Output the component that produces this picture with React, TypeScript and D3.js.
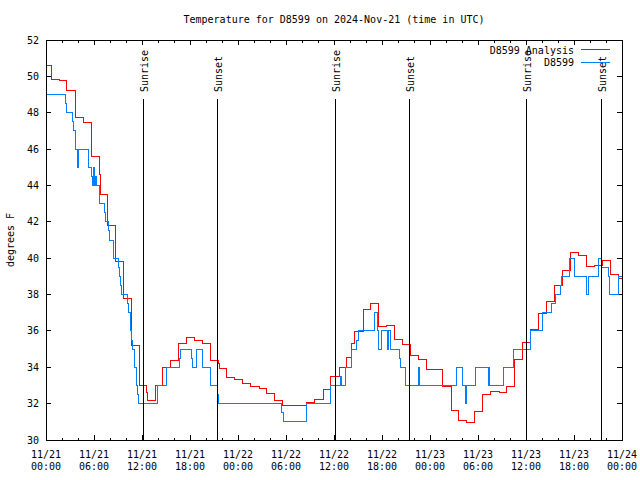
import React from "react";
import * as d3 from "d3";

const TITLE = "Temperature for D8599 on 2024-Nov-21 (time in UTC)";
const Y_LABEL = "degrees F";
const SERIES_NAMES = ["D8599 Analysis", "D8599"];
const SERIES_COLORS = ["#ff0000", "#0080ff"];

// hours since 2024-11-21 00:00 UTC
const X_TICK_HOURS = [0, 6, 12, 18, 24, 30, 36, 42, 48, 54, 60, 66, 72];
const X_TICK_DATES = ["11/21", "11/21", "11/21", "11/21", "11/22", "11/22", "11/22", "11/22", "11/23", "11/23", "11/23", "11/23", "11/24"];
const X_TICK_TIMES = ["00:00", "06:00", "12:00", "18:00", "00:00", "06:00", "12:00", "18:00", "00:00", "06:00", "12:00", "18:00", "00:00"];
const X_MINOR_STEP = 2;
const Y_TICKS = [30, 32, 34, 36, 38, 40, 42, 44, 46, 48, 50, 52];

const SUN_HOURS = [12.15, 21.41, 36.13, 45.41, 60.05, 69.41];
const SUN_LABELS = ["Sunrise", "Sunset", "Sunrise", "Sunset", "Sunrise", "Sunset"];

// D8599 Analysis (red)
const analysisHours = [
  -0.4, 0.71, 1.66, 2.59, 3.66, 4.66, 5.71, 6.66, 6.79, 7.71, 8.71, 9.66, 10.63, 11.66,
  12.59, 12.66, 13.63, 14.59, 15.6, 16.5, 17.6, 18.6, 19.6, 20.6, 21.5, 21.65, 22.6, 23.6,
  24.6, 25.6, 26.66, 27.6, 28.6, 29.6, 32.6, 33.6, 34.66, 35.6, 36.66, 37.6, 38.2, 38.6,
  39.66, 40.6, 41.6, 42.6, 43.5, 44.6, 45.5, 46.5, 47.6, 49.6, 50.7, 51.5, 52.6, 53.5,
  54.6, 55.6, 56.7, 57.6, 58.5, 59.5, 60.5, 61.5, 62.6, 63.6, 64.6, 65.5, 66.5, 67.5,
  68.5, 69.6, 70.5, 71.6, 72.5,
];
const analysisTemps = [
  50.6, 49.85, 49.75, 49.2, 47.75, 47.45, 45.6, 44.6, 43.5, 41.8, 39.8, 37.8, 35.2, 33.0,
  32.6, 32.15, 33.0, 34.0, 34.4, 35.3, 35.65, 35.5, 35.3, 34.35, 34.2, 33.95, 33.45, 33.35,
  33.1, 32.95, 32.85, 32.55, 32.2, 31.9, 32.05, 32.25, 32.8, 33.5, 34.0, 34.55, 35.3, 35.95,
  37.2, 37.5, 36.27, 36.3, 35.54, 35.28, 34.67, 34.44, 33.9, 32.93, 31.65, 31.1, 30.95, 31.56,
  32.53, 32.66, 32.6, 32.97, 34.44, 35.37, 36.08, 36.97, 37.64, 38.52, 39.35, 40.32, 40.14, 39.53,
  39.6, 39.9, 39.13, 38.9, 38.9,
];

// D8599 observations (blue)
const obsHours = [
  -0.5, 0.08, 2.46, 2.59, 3.29, 3.41, 3.63, 3.91, 4.12, 5.29, 5.71, 5.85, 5.95, 6.05, 6.15, 6.25,
  6.66, 6.72, 7.25, 7.38, 7.79, 7.91, 8.41, 9.04, 9.16, 9.34, 9.46, 10.16, 10.29, 10.5, 10.59,
  10.71, 10.84, 11.0, 11.12, 11.25, 11.41, 11.54, 13.91, 15.09, 16.66, 16.75, 18.21, 18.34, 18.75,
  19.54, 20.59, 21.41, 21.54, 29.46, 29.66, 32.5, 35.59, 36.75, 36.96, 37.46, 38.21, 38.84, 39.04,
  41.0, 41.41, 41.54, 41.96, 42.66, 42.79, 43.0, 44.16, 44.34, 44.88, 46.54, 46.66, 51.25, 52.06,
  52.4, 52.59, 53.7, 55.29, 55.35, 55.42, 57.16, 58.41, 60.5, 62.09, 63.21, 63.63, 64.34, 64.46,
  65.41, 66.04, 67.59, 67.79, 69.04, 69.46, 70.29, 70.41, 71.54, 72.5,
];
const obsTemps = [
  49.5, 49, 48.5, 48, 47.5, 47, 46, 45, 46, 45, 44.5, 44, 45, 44, 44.5, 44,
  43.5, 43, 42.5, 42, 41.5, 41, 40, 39.5, 39, 38.5, 38, 37.5, 37, 36.5, 36,
  35.5, 35, 34.5, 34, 33, 32.5, 32, 33, 34, 34.5, 35, 34.5, 34, 35,
  34, 33, 32.5, 32, 31.5, 31, 32, 33, 33.5, 33, 34, 35, 35.5, 36,
  37, 36, 35, 36, 35, 36, 35, 34.5, 34, 33, 34, 33, 34, 33,
  32, 33, 34, 33, 34, 33, 34, 35, 36, 37, 37.5, 38, 38.5, 39,
  40, 39, 38, 39, 40, 39.5, 39, 38, 39, 39,
];

const W = 640;
const H = 480;
const L = 46;
const R = 622;
const T = 40;
const B = 440;
const FONT = "'DejaVu Sans Mono', monospace";

export default function App() {
  const x = d3.scaleLinear().domain([0, 72]).range([L, R]);
  const y = d3.scaleLinear().domain([30, 52]).range([B, T]);

  const mkLine = (hs: number[], vs: number[]) =>
    d3
      .line<number>()
      .x((_, i) => x(hs[i]))
      .y((v) => y(v))
      .curve(d3.curveStepAfter)(vs) || "";

  const redPath = mkLine(analysisHours, analysisTemps);
  const bluePath = mkLine(obsHours, obsTemps);

  const minorTicks = d3.range(0, 72 + 0.001, X_MINOR_STEP).filter((h) => !X_TICK_HOURS.includes(h));

  return (
    <svg
      width={W}
      height={H}
      style={{ position: "absolute", left: 0, top: 0, background: "#fff" }}
      fontFamily={FONT}
      fontSize={10}
    >
      <defs>
        <clipPath id="plotclip">
          <rect x={L} y={T} width={R - L} height={B - T} />
        </clipPath>
      </defs>
      <rect x={0} y={0} width={W} height={H} fill="#fff" />

      <text x={(L + R) / 2} y={23} textAnchor="middle" fill="#000">
        {TITLE}
      </text>

      <text transform={`translate(14,${(T + B) / 2}) rotate(-90)`} textAnchor="middle" fill="#000">
        {Y_LABEL}
      </text>

      {/* Y ticks */}
      {Y_TICKS.map((v) => (
        <g key={"y" + v} shapeRendering="crispEdges">
          <line x1={L} x2={L + 5} y1={y(v)} y2={y(v)} stroke="#000" />
          <line x1={R} x2={R - 5} y1={y(v)} y2={y(v)} stroke="#000" />
          <text x={39} y={y(v) + 3.5} textAnchor="end" fill="#000">
            {v}
          </text>
        </g>
      ))}

      {/* X major ticks */}
      {X_TICK_HOURS.map((h, i) => (
        <g key={"x" + h} shapeRendering="crispEdges">
          <line x1={x(h)} x2={x(h)} y1={B} y2={B - 5} stroke="#000" />
          <line x1={x(h)} x2={x(h)} y1={T} y2={T + 5} stroke="#000" />
          <text x={x(h)} y={458} textAnchor="middle" fill="#000">
            {X_TICK_DATES[i]}
          </text>
          <text x={x(h)} y={470} textAnchor="middle" fill="#000">
            {X_TICK_TIMES[i]}
          </text>
        </g>
      ))}
      {minorTicks.map((h) => (
        <g key={"m" + h} shapeRendering="crispEdges">
          <line x1={x(h)} x2={x(h)} y1={B} y2={B - 2.5} stroke="#000" />
          <line x1={x(h)} x2={x(h)} y1={T} y2={T + 2.5} stroke="#000" />
        </g>
      ))}

      {/* data */}
      <g clipPath="url(#plotclip)" shapeRendering="crispEdges">
        <path d={redPath} fill="none" stroke={SERIES_COLORS[0]} strokeWidth={1} />
        <path d={bluePath} fill="none" stroke={SERIES_COLORS[1]} strokeWidth={1} />
      </g>

      {/* sunrise / sunset */}
      {SUN_HOURS.map((h, i) => (
        <g key={"s" + i}>
          <line x1={x(h)} x2={x(h)} y1={99} y2={B} stroke="#000" shapeRendering="crispEdges" />
          <text transform={`translate(${x(h) + 4.5},92) rotate(-90)`} textAnchor="start" fill="#000">
            {SUN_LABELS[i]}
          </text>
        </g>
      ))}

      {/* legend */}
      {SERIES_NAMES.map((name, i) => (
        <g key={"l" + i}>
          <text x={574} y={53.5 + i * 12.5} textAnchor="end" fill="#000">
            {name}
          </text>
          <line
            x1={581}
            x2={610}
            y1={49.5 + i * 12.5}
            y2={49.5 + i * 12.5}
            stroke={SERIES_COLORS[i]}
            shapeRendering="crispEdges"
          />
        </g>
      ))}

      {/* frame */}
      <rect x={L} y={T} width={R - L} height={B - T} fill="none" stroke="#000" shapeRendering="crispEdges" />
    </svg>
  );
}
